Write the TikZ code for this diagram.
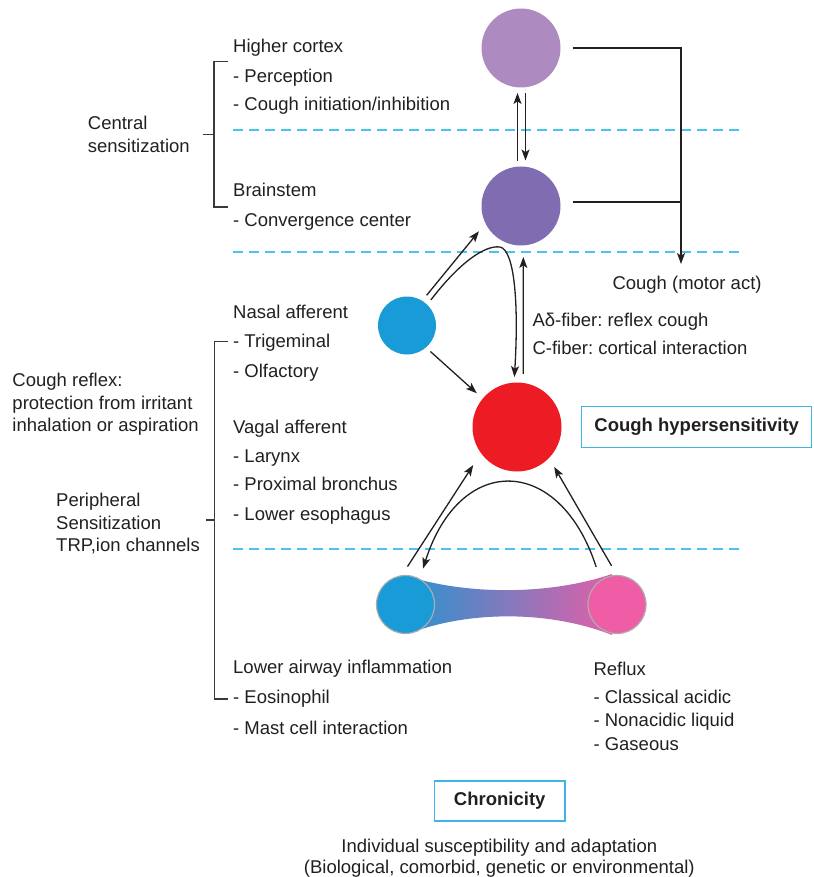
\documentclass[tikz,border=0pt]{standalone}
\usepackage{fontspec}
\setmainfont{Liberation Sans}
\frenchspacing
\usetikzlibrary{arrows.meta,calc}
\definecolor{topc}{HTML}{AD8BC0}
\definecolor{brainc}{HTML}{806CB0}
\definecolor{bluec}{HTML}{189BD7}
\definecolor{redc}{HTML}{ED1C24}
\definecolor{pinkc}{HTML}{EF5DA7}
\definecolor{dashc}{HTML}{4CC3EE}
\definecolor{boxc}{HTML}{3DB5E6}
\definecolor{textc}{HTML}{231F20}
\definecolor{linec}{HTML}{231F20}
\definecolor{brk}{HTML}{3A3A3A}
\begin{document}
\begin{tikzpicture}[x=1pt,y=-1pt,
  txt/.style={anchor=base west,inner sep=0pt,text=textc,font=\fontsize{18.5}{22}\selectfont},
  ctxt/.style={anchor=base,inner sep=0pt,text=textc,font=\fontsize{18.5}{22}\selectfont},
  ball/.style={circle,inner sep=0pt,outer sep=0pt},
  rim/.style={draw=gray!65,line width=1.2pt},
  arr/.style={-{Stealth[length=11pt,width=8pt,inset=2.6pt]},line width=1.3pt,draw=linec},
  ln/.style={line width=1.3pt,draw=linec},
  brack/.style={line width=1.3pt,draw=brk},
  dline/.style={draw=dashc,line width=1.5pt,dash pattern=on 10pt off 6pt},
  hbox/.style={draw=boxc,line width=1.4pt,inner sep=0pt,text=textc,font=\fontsize{18.5}{22}\selectfont\bfseries}]
\useasboundingbox (0,0) rectangle (813,877);

% dashed level lines
\draw[dline] (233,130) -- (740,130);
\draw[dline] (233,252) -- (740,252);
\draw[dline] (233,549) -- (740,549);

% circles
\node[ball,fill=topc,minimum size=79pt] (cortex) at (521,48) {};
\node[ball,fill=brainc,minimum size=79pt] (brain) at (521,206) {};
\node[ball,fill=bluec,minimum size=58pt] (nasal) at (407,325.5) {};
\node[ball,fill=redc,minimum size=89pt] (red) at (517,427) {};

% gradient band
\shade[left color=bluec!80!brainc,right color=pinkc!88!brainc]
  (410,577) .. controls (470,595) and (550,595) .. (612,574)
  -- (612,635) .. controls (550,610.5) and (470,610.5) .. (410,633) -- cycle;
\node[ball,fill=bluec,rim,minimum size=58pt] (lower) at (405.5,604.5) {};
\node[ball,fill=pinkc,rim,minimum size=58pt] (reflux) at (617,604.5) {};

% cortex <-> brainstem
\draw[arr,shorten <=5.5pt,shorten >=5.5pt] ([xshift=-3.5pt]brain.north) -- ([xshift=-3.5pt]cortex.south);
\draw[arr,shorten <=6pt,shorten >=6pt] ([xshift=4.5pt]cortex.south) -- ([xshift=4.5pt]brain.north);

% motor output
\coordinate (mjoin) at (681,264);
\draw[arr,shorten <=12pt] (cortex.east) -| (mjoin);
\path (brain.east) ++(0,-4) coordinate (bse);
\draw[ln,shorten <=12pt] (bse) -- (bse -| mjoin);

% nasal afferent
\draw[arr] ($(nasal)+(57:36pt)$) -- ($(brain)+(211:49pt)$);
\draw[arr] ($(nasal)+(47:35pt)$) .. controls (460,262) and (485,245) .. (500,247)
  .. controls (514,250) and (519,300) .. ($(red)+(93:50pt)$);
\draw[arr] ($(nasal)+(312:35pt)$) -- ($(red)+(140:52.5pt)$);

% red -> brainstem
\draw[arr] ($(red)+(83.2:53.4pt)$) -- ($(brain)+(272.6:51pt)$);

% lower loop
\draw[arr] ($(lower)+(87:38pt)$) -- ($(red)+(221:58pt)$);
\draw[arr] ($(reflux)+(98:39pt)$) -- ($(red)+(313:54.5pt)$);
\draw[arr] ($(reflux)+(119:43pt)$) .. controls (560,455) and (460,452) .. ($(lower)+(64:40pt)$);

% brackets
\draw[brack] (227.7,61.7) -- (214,61.7) -- (214,207) -- (227.7,207);
\draw[brack] (203.3,134.3) -- (214,134.3);
\draw[brack] (227.7,341.7) -- (214.3,341.7) -- (214.3,699) -- (227.7,699);
\draw[brack] (206,520) -- (214.3,520);

% texts upper
\node[txt] (t1) at (233,52.3) {Higher cortex};
\node[txt] (t2) at (233,82.3) {- Perception};
\node[txt] (t3) at (233,110.5) {- Cough initiation/inhibition};
\node[txt] (t4) at (233,196.7) {Brainstem};
\node[txt] (t5) at (233,226) {- Convergence center};
\node[txt] (c1) at (87.7,130) {Central};
\node[txt] (c2) at (87.7,152.3) {sensitization};

\node[txt] (n1) at (233,318.3) {Nasal afferent};
\node[txt] (n2) at (233,347.3) {- Trigeminal};
\node[txt] (n3) at (233,377.3) {- Olfactory};
\node[txt] (v1) at (233,433.3) {Vagal afferent};
\node[txt] (v2) at (233,462) {- Larynx};
\node[txt] (v3) at (233,490.7) {- Proximal bronchus};
\node[txt] (v4) at (233,520) {- Lower esophagus};

\node[txt] (r1) at (12.3,386.7) {Cough reflex:};
\node[txt] (r2) at (12.3,409.3) {protection from irritant};
\node[txt] (r3) at (12.3,431.7) {inhalation or aspiration};
\node[txt] (p1) at (56,506.7) {Peripheral};
\node[txt] (p2) at (56,529.3) {Sensitization};
\node[txt] (p3) at (56,551) {TRP,ion channels};

\node[txt] (l1) at (233,673.3) {Lower airway inflammation};
\node[txt] (l2) at (233,703.3) {- Eosinophil};
\node[txt] (l3) at (233,734) {- Mast cell interaction};
\node[txt] (f1) at (593.3,675) {Reflux};
\node[txt] (f2) at (593.3,703.3) {- Classical acidic};
\node[txt] (f3) at (593.3,726.7) {- Nonacidic liquid};
\node[txt] (f4) at (593.3,750) {- Gaseous};

\node[txt] (a1) at (532.3,326.7) {Aδ-fiber: reflex cough};
\node[txt] (a2) at (532.3,354) {C-fiber: cortical interaction};
\node[txt] (motor) at (612.3,289.3) {Cough (motor act)};

% boxes
\node[hbox,minimum width=230pt,minimum height=40.6pt] (hyper) at (696.7,427) {Cough hypersensitivity};
\node[hbox,minimum width=130.7pt,minimum height=40pt] (chron) at (499.7,801) {Chronicity};

\node[ctxt] (i1) at (499.3,852.7) {Individual susceptibility and adaptation};
\node[ctxt] (i2) at (499.3,873.3) {(Biological, comorbid, genetic or environmental)};
\end{tikzpicture}
\end{document}
